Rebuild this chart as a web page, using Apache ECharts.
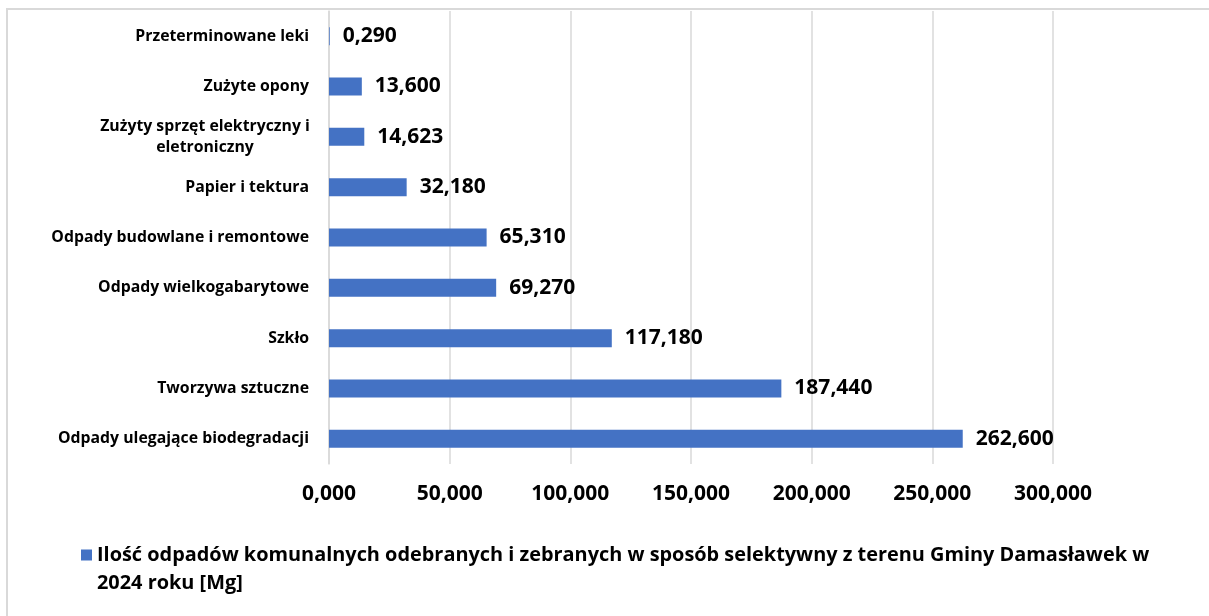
<!DOCTYPE html>
<html>
<head>
<meta charset="utf-8">
<script src="https://cdn.jsdelivr.net/npm/echarts@6/dist/echarts.min.js"></script>
<style>
  html, body { margin: 0; padding: 0; background: #fff; }
  #chart { width: 1209px; height: 616px; }
</style>
</head>
<body>
<div id="chart"></div>
<script>
// kategorie od dołu do góry (oś kategorii w ECharts rośnie w górę)
const categories = [
    "Odpady ulegające biodegradacji",
    "Tworzywa sztuczne",
    "Szkło",
    "Odpady wielkogabarytowe",
    "Odpady budowlane i remontowe",
    "Papier i tektura",
    "Zużyty sprzęt elektryczny i eletroniczny",
    "Zużyte opony",
    "Przeterminowane leki"
]
const values = [262.600, 187.440, 117.180, 69.270, 65.310, 32.180, 14.623, 13.600, 0.290]
const seriesName = "Ilość odpadów komunalnych odebranych i zebranych w sposób selektywny z terenu Gminy Damasławek w 2024 roku [Mg]"
const axisMin = 0
const axisMax = 300
const axisStep = 50

const font = "Open Sans"
const fmt = v => v.toFixed(3).replace('.', ',')

const myChart = echarts.init(document.getElementById('chart'))
myChart.setOption({
    animation: false,
    graphic: [
        {
            type: 'rect',
            shape: {x: 7, y: 9, width: 1300, height: 700},
            style: {fill: 'none', stroke: '#d9d9d9', lineWidth: 2},
            silent: true
        }
    ],
    grid: {left: 329, right: 156, top: 11, bottom: 152, containLabel: false},
    legend: {
        left: 81,
        top: 541,
        padding: 0,
        itemWidth: 11,
        itemHeight: 39,
        icon: 'path://M0,0H11V11H0Z M0,38.99H0.01V39H0Z',
        selectedMode: false,
        formatter: name => name.replace(' 2024', '\n2024'),
        textStyle: {fontFamily: font, fontWeight: 'bold', fontSize: 19.9, color: '#000', lineHeight: 28}
    },
    xAxis: {
        type: 'value',
        min: axisMin,
        max: axisMax,
        interval: axisStep,
        axisLine: {show: false},
        axisTick: {show: false},
        splitLine: {lineStyle: {color: '#d9d9d9', width: 1.5}},
        axisLabel: {
            formatter: v => fmt(v),
            margin: 20,
            fontFamily: font, fontWeight: 'bold', fontSize: 21, color: '#000'
        }
    },
    yAxis: {
        type: 'category',
        data: categories,
        axisLine: {lineStyle: {color: '#d9d9d9', width: 1.5}},
        axisTick: {show: false},
        axisLabel: {
            margin: 20,
            fontFamily: font, fontWeight: 'bold', fontSize: 15.8, color: '#000',
            formatter: v => {
                if (v.indexOf('elektryczny') >= 0) {
                    return '{c|Zużyty sprzęt elektryczny i}\n{c|eletroniczny}'
                }
                return v
            },
            rich: {
                c: {width: 208, align: 'center', lineHeight: 21,
                    fontFamily: font, fontWeight: 'bold', fontSize: 15.8, color: '#000'}
            }
        }
    },
    series: [
        {
            name: seriesName,
            type: 'bar',
            data: values,
            barWidth: 18,
            itemStyle: {color: '#4472c4'},
            label: {
                show: true,
                position: 'right',
                distance: 13,
                formatter: p => fmt(p.value),
                fontFamily: font, fontWeight: 'bold', fontSize: 21, color: '#000'
            }
        }
    ]
})
</script>
</body>
</html>
